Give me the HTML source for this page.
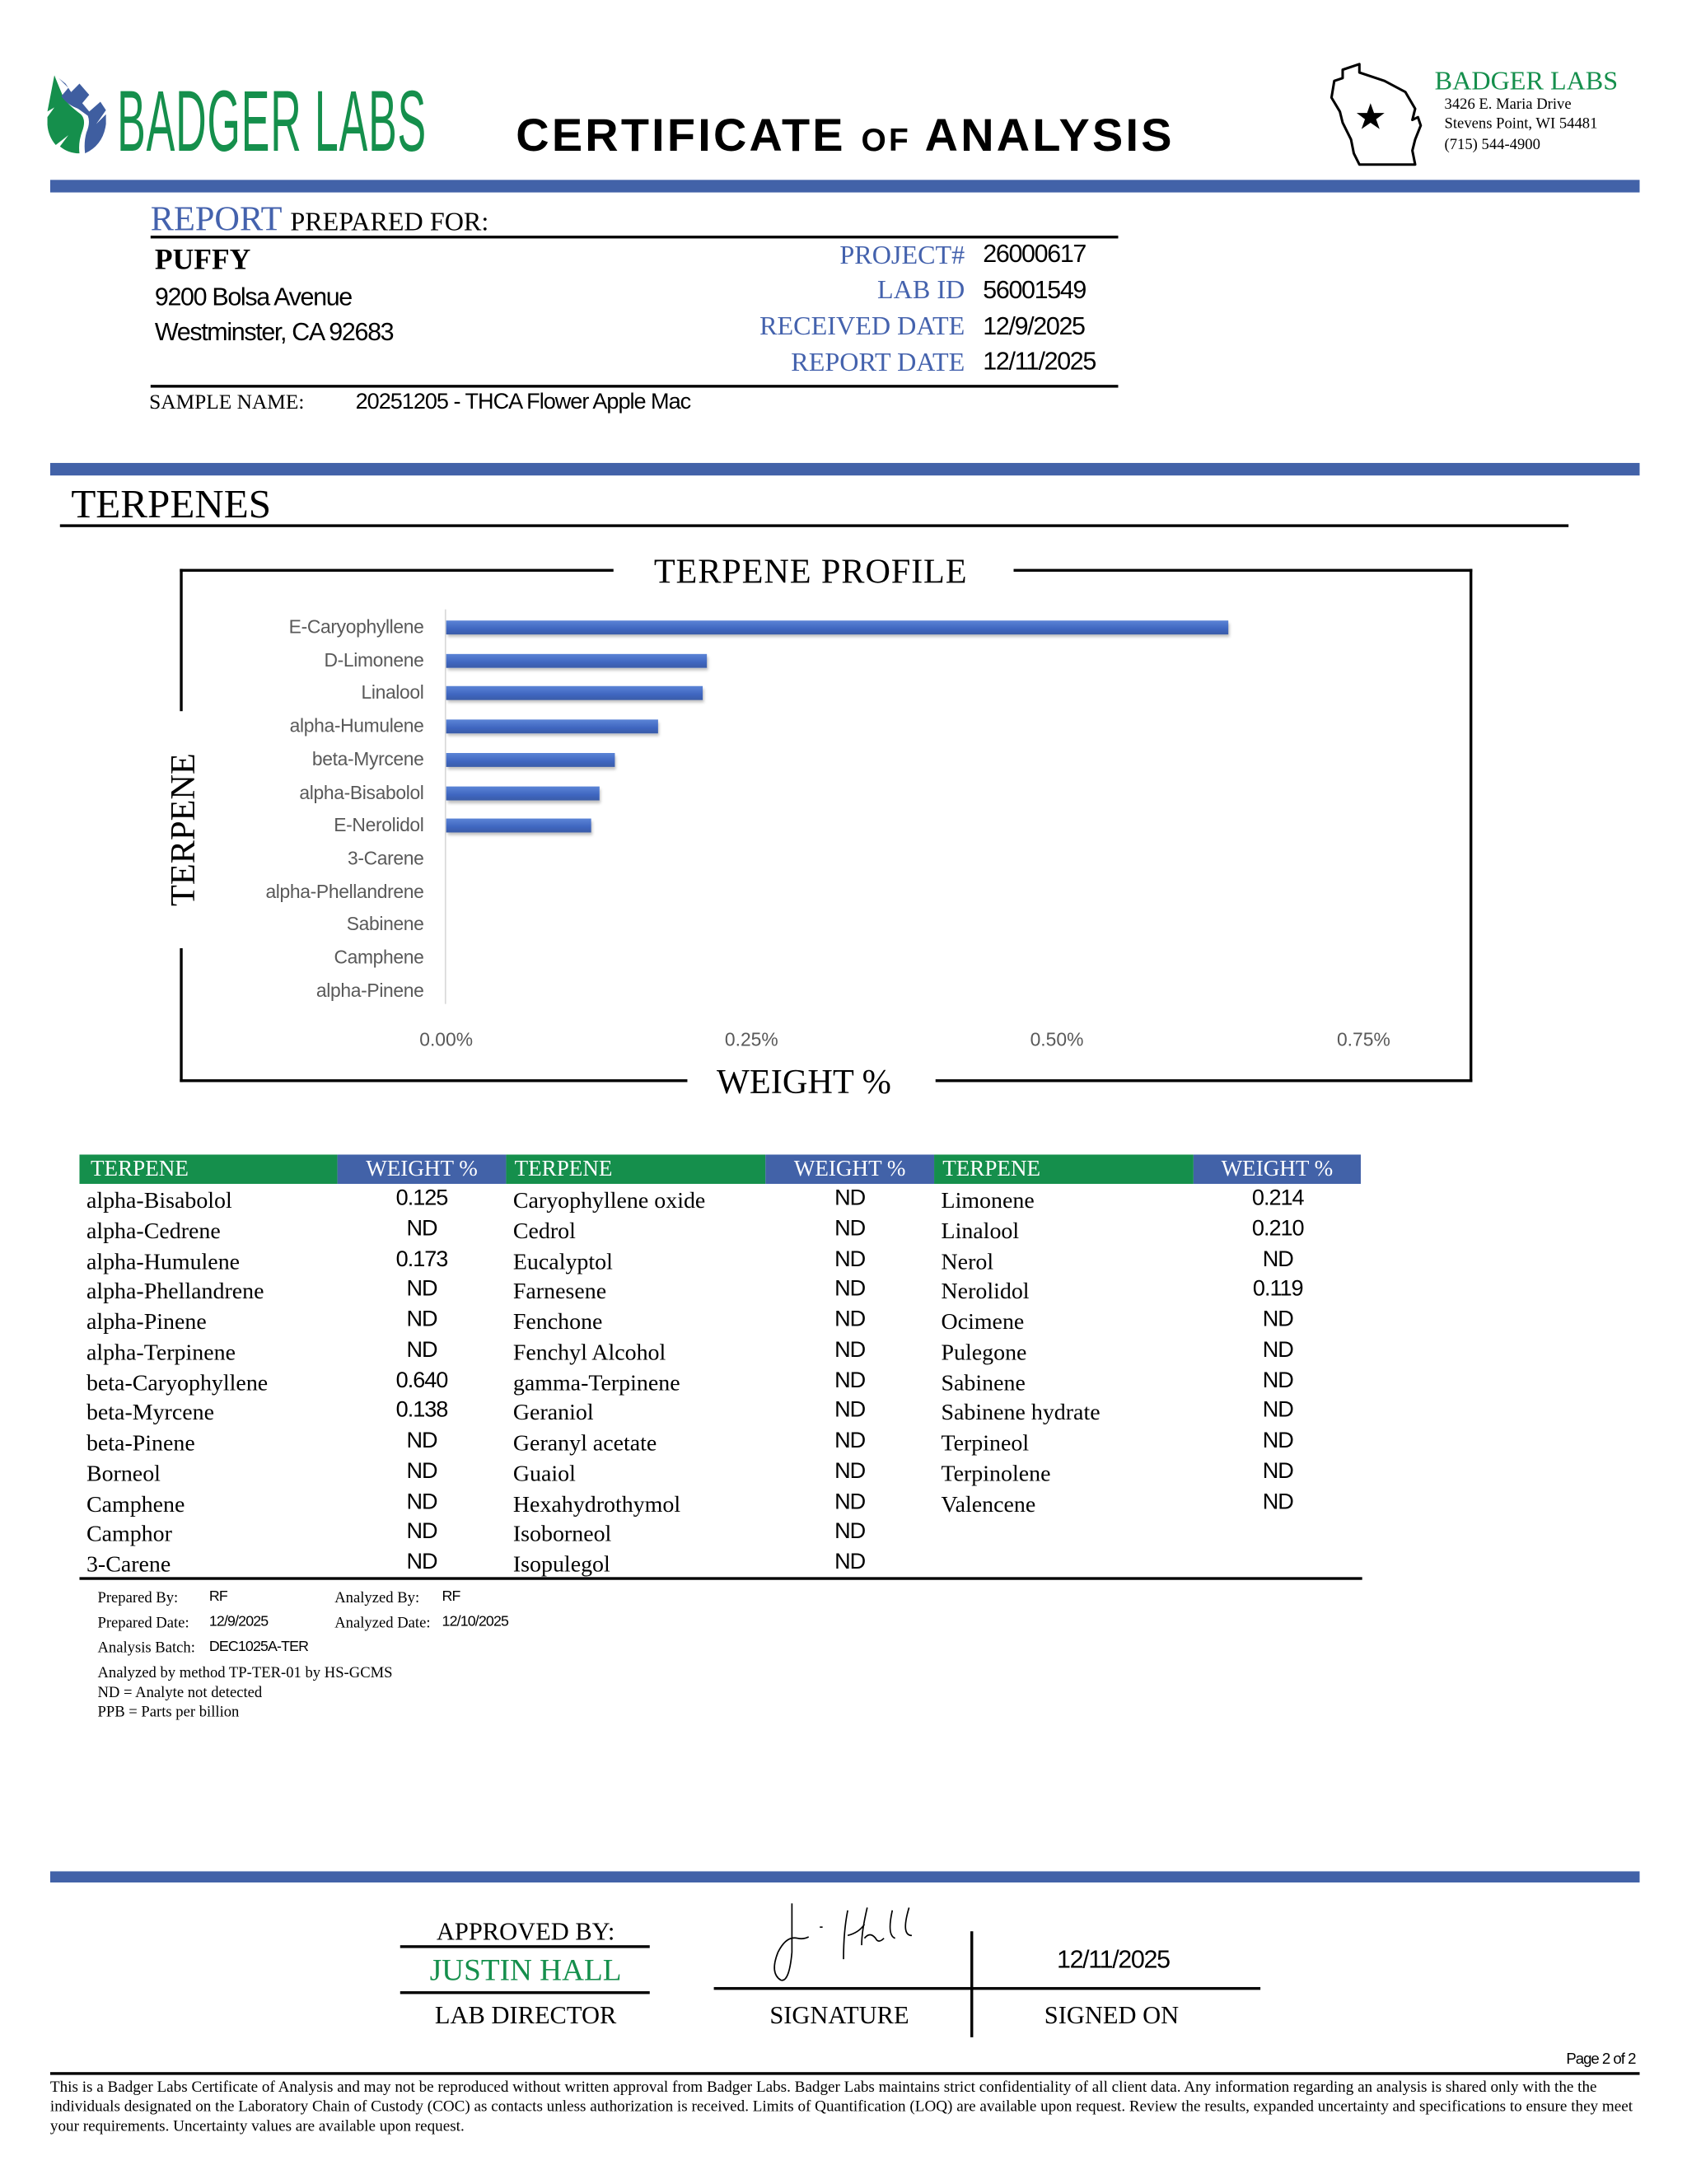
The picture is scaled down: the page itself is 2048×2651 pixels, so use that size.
<!DOCTYPE html>
<html><head><meta charset="utf-8">
<style>
html,body{margin:0;padding:0;background:#fff;}
body{width:2048px;height:2650px;overflow:hidden;position:relative;}
#p{position:absolute;left:0;top:0;width:1210px;height:1566px;transform:scale(1.6926);transform-origin:0 0;}
.t{position:absolute;white-space:nowrap;line-height:1;}
.sf{font-family:"Liberation Serif",serif;}
.ss{font-family:"Liberation Sans",sans-serif;}
.blue{color:#4462ad;}
.bar{position:absolute;background:#4262a8;}
.ln{position:absolute;background:#000;}
.cl{position:absolute;font-family:"Liberation Sans",sans-serif;font-size:13.5px;color:#595959;right:906px;line-height:1;letter-spacing:-0.2px;}
.cb{position:absolute;left:320px;height:10px;background:linear-gradient(#5b84d6,#3f66c0 60%,#3a5ca8);box-shadow:1px 2px 2px rgba(0,0,0,.25);}
.tk{position:absolute;top:738px;font-family:"Liberation Sans",sans-serif;font-size:13.5px;color:#595959;width:80px;text-align:center;}
.th{position:absolute;top:828px;height:21px;color:#fff;font-family:"Liberation Serif",serif;font-size:16px;line-height:22px;}
.g{background:#158f4c;}
.b{background:#4262a8;}
.rn{position:absolute;font-family:"Liberation Serif",serif;font-size:16.5px;line-height:1;}
.rv{position:absolute;font-family:"Liberation Sans",sans-serif;font-size:16px;line-height:1;width:121px;text-align:center;letter-spacing:-0.6px;}
.sm{position:absolute;font-family:"Liberation Serif",serif;font-size:11px;line-height:1;}
.sv{position:absolute;font-family:"Liberation Sans",sans-serif;font-size:10.5px;line-height:1;letter-spacing:-0.5px;}
</style></head><body><div id="p">

<!-- logo -->
<svg style="position:absolute;left:34px;top:54px" width="44" height="60" viewBox="0 0 44 60">
<path d="M5 0 L0 26 L5 23 L0 30 Q-1 42 6 50 L15 43 L9 51 Q15 56 23 56 Q22 48 25 40 Q28 32 24 28 Q16 22 12 17 Q9 10 5 0Z" fill="#158f4c"/>
<path d="M8 2 L15 9 L10 15 Q14 21 22 24 L29 29 Q31 34 28 41 Q26 48 27 56 Q40 50 42 35 L42 28 L35 35 L42 25 L38 19 L30 26 L25 20 L30 14 L23 6 L17 12 L13 6Z" fill="#3f5ea0"/>
</svg>
<div class="t ss" style="left:84px;top:57px;font-size:62px;color:#158f4c;transform:scaleX(0.495);transform-origin:0 0;letter-spacing:1px;">BADGER LABS</div>

<div class="t ss" style="left:370px;top:80px;font-size:33px;font-weight:bold;letter-spacing:1.9px;">CERTIFICATE <span style="font-size:23px">OF</span> ANALYSIS</div>

<!-- Wisconsin -->
<svg style="position:absolute;left:953px;top:42px" width="80" height="80" viewBox="0 0 80 80">
<path d="M10 8 L22 4 L22 10 L40 16 L55 24 L62 36 L60 44 L64 42 L66 48 L62 58 L60 66 L62 76 L22 76 L18 68 L16 58 L10 46 L8 38 L2 28 L4 16 L10 14Z" fill="none" stroke="#000" stroke-width="1.8" stroke-linejoin="round"/>
<polygon points="30,32 32.5,39 40,39 34,43.5 36.5,50.5 30,46 23.5,50.5 26,43.5 20,39 27.5,39" fill="#000"/>
</svg>
<div class="t sf" style="left:1029px;top:49px;font-size:19px;color:#158f4c;">BADGER LABS</div>
<div class="t sf" style="left:1036px;top:70px;font-size:11px;">3426 E. Maria Drive</div>
<div class="t sf" style="left:1036px;top:84px;font-size:11px;">Stevens Point, WI 54481</div>
<div class="t sf" style="left:1036px;top:99px;font-size:11px;">(715) 544-4900</div>

<div class="bar" style="left:36px;top:129px;width:1140px;height:9px;"></div>

<!-- report block -->
<div class="t sf" style="left:108px;top:145px;font-size:25px;"><span class="blue">REPORT</span> <span style="font-size:19px">PREPARED FOR:</span></div>
<div class="ln" style="left:108px;top:169px;width:694px;height:2px;"></div>
<div class="t sf" style="left:111px;top:176px;font-size:21px;font-weight:bold;">PUFFY</div>
<div class="t ss" style="left:111px;top:204px;font-size:18px;letter-spacing:-0.8px;">9200 Bolsa Avenue</div>
<div class="t ss" style="left:111px;top:229px;font-size:18px;letter-spacing:-0.8px;">Westminster, CA 92683</div>
<div class="t sf blue" style="right:518px;top:174px;font-size:19px;">PROJECT#</div>
<div class="t sf blue" style="right:518px;top:199px;font-size:19px;">LAB ID</div>
<div class="t sf blue" style="right:518px;top:225px;font-size:19px;">RECEIVED DATE</div>
<div class="t sf blue" style="right:518px;top:251px;font-size:19px;">REPORT DATE</div>
<div class="t ss" style="left:705px;top:173px;font-size:18px;letter-spacing:-0.8px;">26000617</div>
<div class="t ss" style="left:705px;top:199px;font-size:18px;letter-spacing:-0.8px;">56001549</div>
<div class="t ss" style="left:705px;top:225px;font-size:18px;letter-spacing:-0.8px;">12/9/2025</div>
<div class="t ss" style="left:705px;top:250px;font-size:18px;letter-spacing:-0.8px;">12/11/2025</div>
<div class="ln" style="left:108px;top:276px;width:694px;height:2px;"></div>
<div class="t sf" style="left:107px;top:282px;font-size:15px;">SAMPLE NAME:</div>
<div class="t ss" style="left:255px;top:281px;font-size:16px;letter-spacing:-0.6px;">20251205 - THCA Flower Apple Mac</div>

<div class="bar" style="left:36px;top:332px;width:1140px;height:9px;"></div>

<div class="t sf" style="left:51px;top:348px;font-size:29px;">TERPENES</div>
<div class="ln" style="left:43px;top:376px;width:1082px;height:2px;"></div>

<!-- chart frame -->
<div class="ln" style="left:129px;top:408px;width:311px;height:2px;"></div>
<div class="ln" style="left:727px;top:408px;width:329px;height:2px;"></div>
<div class="ln" style="left:1054px;top:408px;width:2px;height:368px;"></div>
<div class="ln" style="left:129px;top:774px;width:364px;height:2px;"></div>
<div class="ln" style="left:671px;top:774px;width:385px;height:2px;"></div>
<div class="ln" style="left:129px;top:408px;width:2px;height:102px;"></div>
<div class="ln" style="left:129px;top:680px;width:2px;height:96px;"></div>
<div class="t sf" style="left:469px;top:398px;font-size:25px;letter-spacing:0.5px;">TERPENE PROFILE</div>
<div class="t sf" style="left:514px;top:764px;font-size:25px;">WEIGHT %</div>
<div class="t sf" style="left:132px;top:595px;font-size:25px;transform:translate(-50%,-50%) rotate(-90deg);">TERPENE</div>

<div style="position:absolute;left:319px;top:437px;width:1px;height:283px;background:#d9d9d9;"></div>
<div class="cl" style="top:443px">E-Caryophyllene</div>
<div class="cl" style="top:467px">D-Limonene</div>
<div class="cl" style="top:490px">Linalool</div>
<div class="cl" style="top:514px">alpha-Humulene</div>
<div class="cl" style="top:538px">beta-Myrcene</div>
<div class="cl" style="top:562px">alpha-Bisabolol</div>
<div class="cl" style="top:585px">E-Nerolidol</div>
<div class="cl" style="top:609px">3-Carene</div>
<div class="cl" style="top:633px">alpha-Phellandrene</div>
<div class="cl" style="top:656px">Sabinene</div>
<div class="cl" style="top:680px">Camphene</div>
<div class="cl" style="top:704px">alpha-Pinene</div>
<div class="cb" style="top:445px;width:561px"></div>
<div class="cb" style="top:469px;width:187px"></div>
<div class="cb" style="top:492px;width:184px"></div>
<div class="cb" style="top:516px;width:152px"></div>
<div class="cb" style="top:540px;width:121px"></div>
<div class="cb" style="top:564px;width:110px"></div>
<div class="cb" style="top:587px;width:104px"></div>
<div class="tk" style="left:280px">0.00%</div>
<div class="tk" style="left:499px">0.25%</div>
<div class="tk" style="left:718px">0.50%</div>
<div class="tk" style="left:938px">0.75%</div>

<!-- table -->
<div class="th g" style="left:57px;width:185px;"><span style="padding-left:8px">TERPENE</span></div>
<div class="th b" style="left:242px;width:121px;text-align:center;">WEIGHT %</div>
<div class="th g" style="left:363px;width:186px;"><span style="padding-left:6px">TERPENE</span></div>
<div class="th b" style="left:549px;width:121px;text-align:center;">WEIGHT %</div>
<div class="th g" style="left:670px;width:186px;"><span style="padding-left:6px">TERPENE</span></div>
<div class="th b" style="left:856px;width:120px;text-align:center;">WEIGHT %</div>

<div class="rn" style="left:62px;top:850px;line-height:21.75px">alpha-Bisabolol<br>alpha-Cedrene<br>alpha-Humulene<br>alpha-Phellandrene<br>alpha-Pinene<br>alpha-Terpinene<br>beta-Caryophyllene<br>beta-Myrcene<br>beta-Pinene<br>Borneol<br>Camphene<br>Camphor<br>3-Carene</div>
<div class="rv" style="left:242px;top:849px;line-height:21.75px">0.125<br>ND<br>0.173<br>ND<br>ND<br>ND<br>0.640<br>0.138<br>ND<br>ND<br>ND<br>ND<br>ND</div>
<div class="rn" style="left:368px;top:850px;line-height:21.75px">Caryophyllene oxide<br>Cedrol<br>Eucalyptol<br>Farnesene<br>Fenchone<br>Fenchyl Alcohol<br>gamma-Terpinene<br>Geraniol<br>Geranyl acetate<br>Guaiol<br>Hexahydrothymol<br>Isoborneol<br>Isopulegol</div>
<div class="rv" style="left:549px;top:849px;line-height:21.75px">ND<br>ND<br>ND<br>ND<br>ND<br>ND<br>ND<br>ND<br>ND<br>ND<br>ND<br>ND<br>ND</div>
<div class="rn" style="left:675px;top:850px;line-height:21.75px">Limonene<br>Linalool<br>Nerol<br>Nerolidol<br>Ocimene<br>Pulegone<br>Sabinene<br>Sabinene hydrate<br>Terpineol<br>Terpinolene<br>Valencene</div>
<div class="rv" style="left:856px;top:849px;line-height:21.75px">0.214<br>0.210<br>ND<br>0.119<br>ND<br>ND<br>ND<br>ND<br>ND<br>ND<br>ND</div>
<div class="ln" style="left:57px;top:1131px;width:920px;height:2px;"></div>

<div class="sm" style="left:70px;top:1141px">Prepared By:</div>
<div class="sv" style="left:150px;top:1140px">RF</div>
<div class="sm" style="left:240px;top:1141px">Analyzed By:</div>
<div class="sv" style="left:317px;top:1140px">RF</div>
<div class="sm" style="left:70px;top:1159px">Prepared Date:</div>
<div class="sv" style="left:150px;top:1158px">12/9/2025</div>
<div class="sm" style="left:240px;top:1159px">Analyzed Date:</div>
<div class="sv" style="left:317px;top:1158px">12/10/2025</div>
<div class="sm" style="left:70px;top:1177px">Analysis Batch:</div>
<div class="sv" style="left:150px;top:1176px">DEC1025A-TER</div>
<div class="sm" style="left:70px;top:1195px">Analyzed by method TP-TER-01 by HS-GCMS</div>
<div class="sm" style="left:70px;top:1209px">ND = Analyte not detected</div>
<div class="sm" style="left:70px;top:1223px">PPB = Parts per billion</div>

<div class="bar" style="left:36px;top:1342px;width:1140px;height:8px;"></div>

<!-- approval -->
<div class="t sf" style="left:287px;width:180px;text-align:center;top:1376px;font-size:18px;">APPROVED BY:</div>
<div class="ln" style="left:287px;top:1395px;width:179px;height:2px;"></div>
<div class="t sf" style="left:287px;width:180px;text-align:center;top:1402px;font-size:22px;color:#158f4c;">JUSTIN HALL</div>
<div class="ln" style="left:287px;top:1428px;width:179px;height:2px;"></div>
<div class="t sf" style="left:287px;width:180px;text-align:center;top:1436px;font-size:18px;">LAB DIRECTOR</div>
<svg style="position:absolute;left:550px;top:1360px" width="120" height="65" viewBox="0 0 120 65">
<path d="M18 5 L18 40 Q16 62 10 60 Q2 55 8 40 Q14 28 22 30 Q26 31 30 29" fill="none" stroke="#000" stroke-width="1"/>
<path d="M38 22 L40 22 M58 10 Q55 25 55 45 M58 28 Q66 26 70 20 M72 8 Q68 25 68 35 M70 30 Q74 25 78 30 Q80 34 84 30 M90 10 Q86 28 92 30 M102 8 Q96 28 104 28" fill="none" stroke="#000" stroke-width="1"/>
</svg>
<div class="ln" style="left:512px;top:1425px;width:392px;height:2px;"></div>
<div class="ln" style="left:696px;top:1385px;width:2px;height:76px;"></div>
<div class="t ss" style="left:758px;top:1396px;font-size:18px;letter-spacing:-0.8px;">12/11/2025</div>
<div class="t sf" style="left:552px;top:1436px;font-size:18px;">SIGNATURE</div>
<div class="t sf" style="left:749px;top:1436px;font-size:18px;">SIGNED ON</div>

<div class="t ss" style="right:37px;top:1472px;font-size:11px;letter-spacing:-0.6px;">Page 2 of 2</div>
<div class="ln" style="left:36px;top:1486px;width:1140px;height:2px;"></div>
<div class="sm" style="left:36px;top:1490px;width:1140px;font-size:11.3px;line-height:14px;white-space:normal;">This is a Badger Labs Certificate of Analysis and may not be reproduced without written approval from Badger Labs. Badger Labs maintains strict confidentiality of all client data. Any information regarding an analysis is shared only with the the individuals designated on the Laboratory Chain of Custody (COC) as contacts unless authorization is received. Limits of Quantification (LOQ) are available upon request. Review the results, expanded uncertainty and specifications to ensure they meet your requirements. Uncertainty values are available upon request.</div>

</div></body></html>
